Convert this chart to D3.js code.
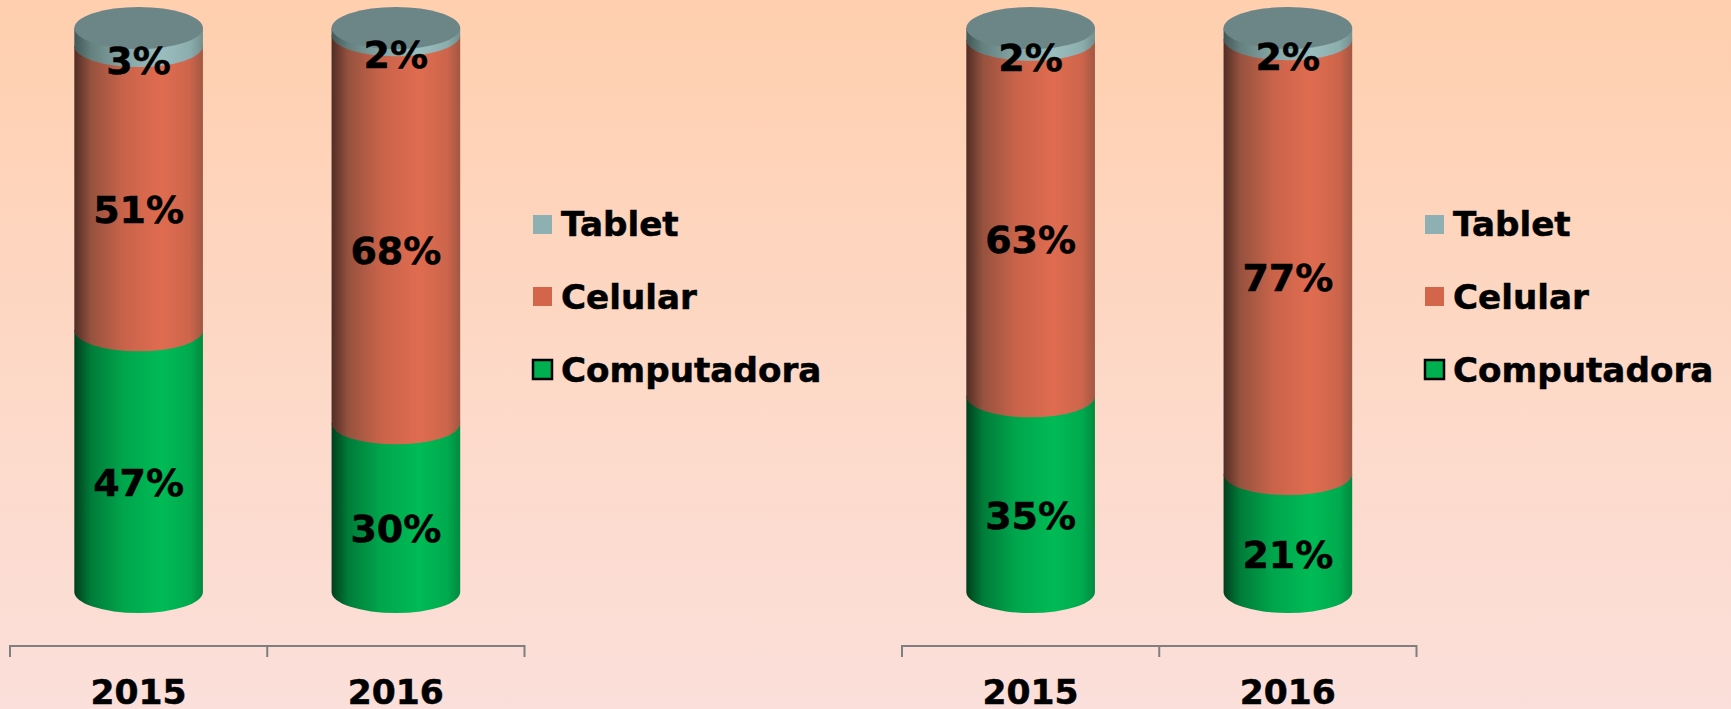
<!DOCTYPE html>
<html>
<head>
    <title>Cylinders</title>
    <meta charset="utf-8">
    <style>
        html, body { margin: 0; padding: 0; overflow: hidden; }
        svg { display: block; }
        text { font-family: "DejaVu Sans", sans-serif; font-weight: bold; fill: #000; stroke: #000; stroke-width: 0.5px; }
    </style>
</head>
<body>
<script src="https://d3js.org/d3.v7.min.js"></script>
<script>
    const years = ['2015', '2016'];
    const seriesNames = ['Computadora', 'Celular', 'Tablet'];

    // printed labels
    const labelsComputadoraA = [47, 30];
    const labelsCelularA = [51, 68];
    const labelsTabletA = [3, 2];
    const labelsComputadoraB = [35, 21];
    const labelsCelularB = [63, 77];
    const labelsTabletB = [2, 2];

    // segment shares (labels are rounded and don't always sum to 100)
    const computadoraA = [46.4, 29.9];
    const celularA = [50.4, 68.8];
    const tabletA = [3.2, 1.3];
    const computadoraB = [34.7, 20.9];
    const celularB = [63.2, 77.1];
    const tabletB = [2.1, 2];

    const WIDTH = 1731, HEIGHT = 709;
    const PANEL_SHIFT = 892;
    const RY = 21;

    const colors = {
        Computadora: {legend: '#00b050', stops: ['#003f1d', '#007c39', '#00a54c', '#00bb56', '#00aa4e', '#008a40']},
        Celular: {legend: '#d2654a', stops: ['#512d25', '#96523f', '#c8634a', '#e06c50', '#cc654b', '#a25743']},
        Tablet: {legend: '#8fb0b2', stops: ['#435757', '#64807f', '#85a5a5', '#9abdbd', '#8cadad', '#728f8f']}
    };
    const stopOffsets = [0, 0.13, 0.38, 0.68, 0.9, 1];

    const svg = d3.select('body').append('svg').attr('width', WIDTH).attr('height', HEIGHT);
    const defs = svg.append('defs');

    const bg = defs.append('linearGradient').attr('id', 'bg')
        .attr('x1', 0).attr('y1', 0).attr('x2', 0).attr('y2', 1);
    bg.append('stop').attr('offset', 0).attr('stop-color', '#ffcfae');
    bg.append('stop').attr('offset', 0.55).attr('stop-color', '#fdd9c8');
    bg.append('stop').attr('offset', 1).attr('stop-color', '#fbdfda');
    svg.append('rect').attr('width', WIDTH).attr('height', HEIGHT).attr('fill', 'url(#bg)');

    seriesNames.forEach(name => {
        const g = defs.append('linearGradient').attr('id', 'grad-' + name);
        stopOffsets.forEach((o, i) => {
            g.append('stop').attr('offset', o).attr('stop-color', colors[name].stops[i]);
        });
    });

    const x = d3.scaleBand().domain(years).range([10, 524.5]).paddingInner(0.5).paddingOuter(0.25);
    const y = d3.scaleLinear().domain([0, 100]).range([592, 28]);

    function segmentPath(x0, w, top, bottom) {
        return `M${x0},${top}L${x0},${bottom}A${w / 2},${RY} 0 0 0 ${x0 + w},${bottom}L${x0 + w},${top}Z`;
    }

    function drawPanel(shift, shares, labels) {
        const panel = svg.append('g').attr('transform', `translate(${shift},0)`);
        const w = x.bandwidth();

        years.forEach((year, i) => {
            const bar = panel.append('g');
            let base = 0;
            const texts = [];

            shares.forEach((series, j) => {
                const v = series[i];
                const top = y(base + v);
                const bottom = y(base);
                bar.append('path')
                    .attr('d', segmentPath(x(year), w, top, bottom))
                    .attr('fill', `url(#grad-${seriesNames[j]})`);
                // top label sits a bit lower, it straddles the cap edge
                const nudge = j === shares.length - 1 ? 2 : 0;
                texts.push({label: labels[j][i], cy: (top + bottom) / 2 + RY + nudge});
                base += v;
            });

            bar.append('ellipse')
                .attr('cx', x(year) + w / 2)
                .attr('cy', y(100))
                .attr('rx', w / 2)
                .attr('ry', RY)
                .attr('fill', '#6c8687');

            bar.selectAll('text.value')
                .data(texts)
                .join('text')
                .attr('class', 'value')
                .attr('x', x(year) + w / 2)
                .attr('y', d => d.cy)
                .attr('dy', '0.36em')
                .attr('text-anchor', 'middle')
                .attr('font-size', 38)
                .text(d => d.label + '%');
        });

        // category axis with ticks between the bars
        const edges = [x.range()[0], x.range()[0] + x.step(), x.range()[1]];
        const axis = panel.append('g').attr('stroke', '#7f7f7f').attr('stroke-width', 2);
        axis.append('line').attr('x1', edges[0]).attr('x2', edges[2]).attr('y1', 646).attr('y2', 646);
        axis.selectAll('line.tick').data(edges).join('line')
            .attr('class', 'tick')
            .attr('x1', d => d).attr('x2', d => d)
            .attr('y1', 645).attr('y2', 657);

        panel.selectAll('text.year').data(years).join('text')
            .attr('class', 'year')
            .attr('x', d => x(d) + w / 2)
            .attr('y', 704)
            .attr('text-anchor', 'middle')
            .attr('font-size', 34.5)
            .text(d => d);

        // legend, top entry first
        const legendRows = [
            {name: 'Tablet', box: 215, base: 236},
            {name: 'Celular', box: 287, base: 309},
            {name: 'Computadora', box: 360, base: 382}
        ];
        legendRows.forEach(r => {
            panel.append('rect')
                .attr('x', 533).attr('y', r.box)
                .attr('width', 19).attr('height', 19)
                .attr('fill', colors[r.name].legend)
                .attr('stroke', r.name === 'Computadora' ? '#000' : 'none')
                .attr('stroke-width', 2.5);
            panel.append('text')
                .attr('x', 561).attr('y', r.base)
                .attr('font-size', 34.2)
                .text(r.name);
        });
    }

    drawPanel(0, [computadoraA, celularA, tabletA], [labelsComputadoraA, labelsCelularA, labelsTabletA]);
    drawPanel(PANEL_SHIFT, [computadoraB, celularB, tabletB], [labelsComputadoraB, labelsCelularB, labelsTabletB]);
</script>
</body>
</html>
